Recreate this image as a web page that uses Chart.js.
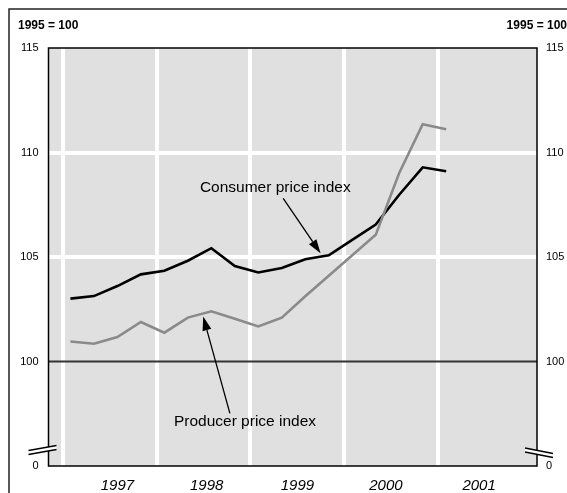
<!DOCTYPE html>
<html>
<head>
<meta charset="utf-8">
<script src="https://cdn.jsdelivr.net/npm/chart.js"></script>
<style>
  html, body { margin: 0; padding: 0; background: #fff; }
  canvas { display: block; }
</style>
</head>
<body>
<canvas id="chart" width="567" height="493"></canvas>
<script>
// quarterly data, 1995 = 100
var quarters = ['1997 Q1', '1997 Q2', '1997 Q3', '1997 Q4',
                '1998 Q1', '1998 Q2', '1998 Q3', '1998 Q4',
                '1999 Q1', '1999 Q2', '1999 Q3', '1999 Q4',
                '2000 Q1', '2000 Q2', '2000 Q3', '2000 Q4',
                '2001 Q1'];
var consumerPrices = [103.01, 103.13, 103.61, 104.17, 104.34, 104.82, 105.42, 104.57,
                      104.26, 104.47, 104.89, 105.08, 105.82, 106.55, 107.98, 109.29,
                      109.10];
var producerPrices = [100.96, 100.85, 101.17, 101.89, 101.38, 102.10, 102.40, 102.05,
                      101.68, 102.10, 103.12, 104.10, 105.08, 106.06, 109.02, 111.35,
                      111.11];
var yearLabels = ['1997', '1998', '1999', '2000', '2001'];
var yTicks = [95, 100, 105, 110, 115];
var yTickLabels = ['0', '100', '105', '110', '115'];

// x axis runs in months, 0 = start of 1997, quarter points sit in mid-quarter month
var X_MIN = -1.8, X_MAX = 60.6;
var yearLinePos = [0, 12, 24, 36, 48];
var yearLabelPos = [7, 18.4, 30, 41.3, 53.2];
var FONT = "'Liberation Sans', Arial, Helvetica, sans-serif";

var quarterMonth = function(q) {
    var p = q.split(' Q');
    return (parseInt(p[0]) - 1997) * 12 + (parseInt(p[1]) - 1) * 3 + 1;
};

var toPoints = function(values) {
    var pts = [];
    for (var i = 0; i < quarters.length; i++) {
        pts.push({x: quarterMonth(quarters[i]), y: values[i]});
    }
    return pts;
};

var drawArrow = function(ctx, x1, y1, x2, y2) {
    var ang = Math.atan2(y2 - y1, x2 - x1);
    var len = 14, half = 4.5;
    var bx = x2 - len * Math.cos(ang), by = y2 - len * Math.sin(ang);
    ctx.beginPath();
    ctx.moveTo(x1, y1);
    ctx.lineTo(bx, by);
    ctx.strokeStyle = '#000';
    ctx.lineWidth = 1.3;
    ctx.stroke();
    ctx.beginPath();
    ctx.moveTo(x2, y2);
    ctx.lineTo(bx + half * Math.sin(ang), by - half * Math.cos(ang));
    ctx.lineTo(bx - half * Math.sin(ang), by + half * Math.cos(ang));
    ctx.closePath();
    ctx.fillStyle = '#000';
    ctx.fill();
};

var drawBreak = function(ctx, x, y, a, b) {
    // a, b: two [dx1, dy1, dx2, dy2] segments
    ctx.beginPath();
    ctx.moveTo(x + a[0], y + a[1]);
    ctx.lineTo(x + a[2], y + a[3]);
    ctx.lineTo(x + b[2], y + b[3]);
    ctx.lineTo(x + b[0], y + b[1]);
    ctx.closePath();
    ctx.fillStyle = '#fff';
    ctx.fill();
    ctx.strokeStyle = '#000';
    ctx.lineWidth = 1.3;
    [a, b].forEach(function(s) {
        ctx.beginPath();
        ctx.moveTo(x + s[0], y + s[1]);
        ctx.lineTo(x + s[2], y + s[3]);
        ctx.stroke();
    });
};

var decorPlugin = {
    id: 'decor',
    beforeDraw: function(chart) {
        var ctx = chart.ctx, a = chart.chartArea;
        ctx.save();
        ctx.fillStyle = '#fff';
        ctx.fillRect(0, 0, chart.width, chart.height);
        ctx.fillStyle = '#e0e0e0';
        ctx.fillRect(a.left, a.top, a.right - a.left, a.bottom - a.top);
        ctx.restore();
    },
    beforeDatasetsDraw: function(chart) {
        var ctx = chart.ctx, a = chart.chartArea;
        var y100 = chart.scales.y.getPixelForValue(100);
        ctx.save();
        ctx.beginPath();
        ctx.moveTo(a.left, y100);
        ctx.lineTo(a.right, y100);
        ctx.strokeStyle = '#333';
        ctx.lineWidth = 2;
        ctx.stroke();
        ctx.restore();
    },
    afterDraw: function(chart) {
        var ctx = chart.ctx, a = chart.chartArea;
        var sx = chart.scales.x, sy = chart.scales.y;
        ctx.save();
        // outer frame
        ctx.strokeStyle = '#000';
        ctx.lineWidth = 1.3;
        ctx.strokeRect(9, 9, chart.width + 20, chart.height + 20);
        // plot border
        ctx.lineWidth = 1.5;
        ctx.strokeRect(a.left, a.top, a.right - a.left, a.bottom - a.top);
        // axis breaks
        drawBreak(ctx, a.left, a.bottom, [-20, -11.5, 8, -16.5], [-20, -15.5, 8, -20.5]);
        drawBreak(ctx, a.right, a.bottom, [-12, -18, 16, -12.5], [-12, -14, 16, -8.5]);
        // unit labels
        ctx.fillStyle = '#000';
        ctx.font = 'bold 12px ' + FONT;
        ctx.textBaseline = 'middle';
        ctx.textAlign = 'left';
        ctx.fillText('1995 = 100', 18, 25.5);
        ctx.textAlign = 'right';
        ctx.fillText('1995 = 100', 567, 25.5);
        // series labels with arrows
        ctx.font = '15.5px ' + FONT;
        ctx.textAlign = 'left';
        ctx.textBaseline = 'alphabetic';
        ctx.fillText('Consumer price index', sx.getPixelForValue(17.54), sy.getPixelForValue(108.10));
        ctx.fillText('Producer price index', sx.getPixelForValue(14.22), sy.getPixelForValue(96.93));
        drawArrow(ctx, sx.getPixelForValue(28.18), sy.getPixelForValue(107.81),
                  sx.getPixelForValue(32.95), sy.getPixelForValue(105.18));
        drawArrow(ctx, sx.getPixelForValue(21.37), sy.getPixelForValue(97.52),
                  sx.getPixelForValue(17.96), sy.getPixelForValue(102.15));
        ctx.restore();
    }
};

var yGridColor = function(c) {
    var v = c.tick ? c.tick.value : null;
    return (v === 105 || v === 110) ? '#fff' : 'rgba(0,0,0,0)';
};

window.onload = function() {
    Chart.defaults.font.family = FONT;
    Chart.defaults.color = '#000';
    var ctx = document.getElementById('chart').getContext('2d');
    new Chart(ctx, {
        type: 'line',
        data: {
            datasets: [{
                label: 'Producer price index',
                data: toPoints(producerPrices),
                borderColor: '#8a8a8a',
                borderWidth: 2.6,
                pointRadius: 0,
                tension: 0,
                xAxisID: 'x',
                yAxisID: 'y'
            }, {
                label: 'Consumer price index',
                data: toPoints(consumerPrices),
                borderColor: '#000',
                borderWidth: 2.6,
                pointRadius: 0,
                tension: 0,
                xAxisID: 'x',
                yAxisID: 'y'
            }]
        },
        options: {
            responsive: false,
            animation: false,
            devicePixelRatio: 1,
            layout: { padding: { top: 48, left: 0, right: 0, bottom: 0 } },
            plugins: { legend: { display: false }, tooltip: { enabled: false } },
            scales: {
                x: {
                    type: 'linear', position: 'bottom', min: X_MIN, max: X_MAX,
                    afterBuildTicks: function(s) { s.ticks = yearLinePos.map(function(v) { return {value: v}; }); },
                    ticks: { display: false },
                    grid: { color: '#fff', lineWidth: 4, drawTicks: false },
                    border: { display: false },
                    afterFit: function(s) { s.height = 0; }
                },
                xl: {
                    type: 'linear', position: 'bottom', min: X_MIN, max: X_MAX,
                    afterBuildTicks: function(s) { s.ticks = yearLabelPos.map(function(v) { return {value: v}; }); },
                    ticks: {
                        autoSkip: false, maxRotation: 0, padding: 3,
                        font: { size: 15, style: 'italic' },
                        callback: function(v, i) { return yearLabels[i]; }
                    },
                    grid: { display: false },
                    border: { display: false },
                    afterFit: function(s) { s.height = 27; }
                },
                y: {
                    type: 'linear', position: 'left', min: 95, max: 115,
                    afterBuildTicks: function(s) { s.ticks = yTicks.map(function(v) { return {value: v}; }); },
                    ticks: {
                        padding: 10, font: { size: 11 },
                        callback: function(v, i) { return yTickLabels[i]; }
                    },
                    grid: { color: yGridColor, lineWidth: 4, drawTicks: false },
                    border: { display: false },
                    afterFit: function(s) { s.width = 48.5; }
                },
                y2: {
                    type: 'linear', position: 'right', min: 95, max: 115,
                    afterBuildTicks: function(s) { s.ticks = yTicks.map(function(v) { return {value: v}; }); },
                    ticks: {
                        padding: 9, font: { size: 11 },
                        callback: function(v, i) { return yTickLabels[i]; }
                    },
                    grid: { display: false, drawTicks: false },
                    border: { display: false },
                    afterFit: function(s) { s.width = 30; }
                }
            }
        },
        plugins: [decorPlugin]
    });
};
</script>
</body>
</html>
